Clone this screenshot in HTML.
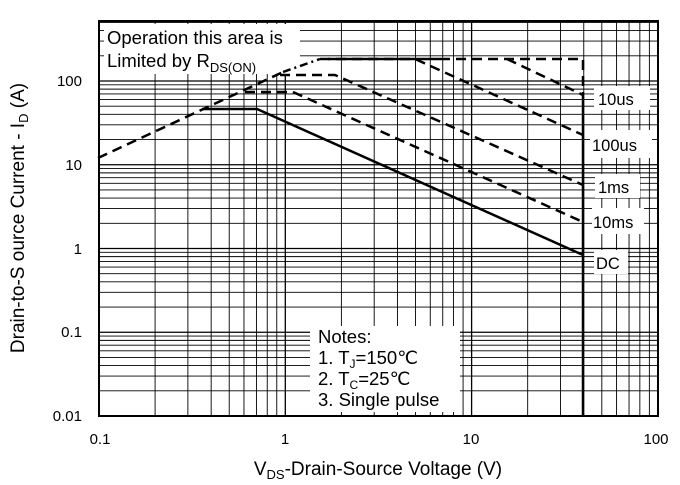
<!DOCTYPE html>
<html><head><meta charset="utf-8"><style>
body{margin:0;background:#fff}
svg{display:block;font-family:"Liberation Sans",Arial,sans-serif}
</style></head><body>
<svg id="s" width="680" height="485" viewBox="0 0 680 485" xmlns="http://www.w3.org/2000/svg">
<g id="grid" stroke="#000" stroke-width="1"></g>
<rect x="99" y="21" width="559" height="395" fill="none" stroke="#000" stroke-width="2"/>
<g fill="#fff">
<rect x="104" y="24" width="196" height="50"/>
<rect x="594" y="86" width="56" height="24"/>
<rect x="590" y="130" width="62" height="28"/>
<rect x="595" y="174" width="45" height="24"/>
<rect x="592" y="208" width="52" height="26"/>
<rect x="594" y="250" width="34" height="24"/>
<rect x="310" y="326" width="150" height="86"/>
</g>
<g fill="none" stroke="#000" stroke-width="2.5">
<line x1="583" y1="95" x2="583" y2="416"/>
<polyline points="98,158 283,72" stroke-dasharray="10,6"/>
<polyline points="283,72 320,59" stroke-dasharray="8,4,2,4"/>
<line x1="328" y1="59" x2="440" y2="59"/>
<polyline points="440,59 583,59 583,95" stroke-dasharray="10,6"/>
<polyline points="507,59 583,95" stroke-dasharray="10,6"/>
<polyline points="320,59 415,59 583,135" stroke-dasharray="10,6"/>
<polyline points="280,75 335,75 583,185" stroke-dasharray="10,6"/>
<polyline points="245,92 293,92 583,222" stroke-dasharray="10,6"/>
<polyline points="202,109 257,109 583,255"/>
</g>
<g font-size="18.5" fill="#000">
<text x="107" y="44">Operation this area is</text>
<text x="107" y="67">Limited  by R<tspan font-size="13" dy="5">DS(ON)</tspan></text>
<text x="598" y="105" font-size="16.5">10us</text>
<text x="592" y="151" font-size="16.5">100us</text>
<text x="598" y="193" font-size="16.5">1ms</text>
<text x="593" y="228" font-size="16.5">10ms</text>
<text x="596" y="269" font-size="16.5">DC</text>
<text x="318" y="343">Notes:</text>
<text x="318" y="364">1. T<tspan font-size="12" dy="4">J</tspan><tspan dy="-4">=150℃</tspan></text>
<text x="318" y="385">2. T<tspan font-size="12" dy="4">C</tspan><tspan dy="-4">=25℃</tspan></text>
<text x="318" y="406">3. Single pulse</text>
</g>
<g font-size="15" text-anchor="end">
<text x="82" y="86">100</text>
<text x="82" y="170">10</text>
<text x="82" y="254">1</text>
<text x="82" y="337">0.1</text>
<text x="82" y="421">0.01</text>
</g>
<g font-size="15" text-anchor="middle">
<text x="100" y="444">0.1</text>
<text x="285" y="444">1</text>
<text x="471" y="444">10</text>
<text x="656" y="444">100</text>
</g>
<text x="378" y="475" font-size="19" text-anchor="middle">V<tspan font-size="13" dy="4">DS</tspan><tspan dy="-4">-Drain-Source Voltage (V)</tspan></text>
<text transform="translate(24,218) rotate(-90)" font-size="19" text-anchor="middle">Drain-to-S ource Current - I<tspan font-size="13" dy="4">D</tspan><tspan dy="-4"> (A)</tspan></text>
</svg>
<script>
var g=document.getElementById('grid'),ns='http://www.w3.org/2000/svg';
function L(a,b,c,d,w){var l=document.createElementNS(ns,'line');l.setAttribute('x1',a);l.setAttribute('y1',b);l.setAttribute('x2',c);l.setAttribute('y2',d);l.setAttribute('stroke-width',w);g.appendChild(l);}
for(var e=-1;e<2;e++)for(var m=1;m<10;m++){var x=99+(e+1+Math.log10(m))*186.3;L(x,21,x,416,m==1?1.3:0.9);}
for(var e=-2;e<3;e++)for(var m=1;m<10;m++){var y=416-(e+2+Math.log10(m))*83.75;if(y<22)continue;L(99,y,658,y,m==1?1.3:0.9);}
</script>
</body></html>
